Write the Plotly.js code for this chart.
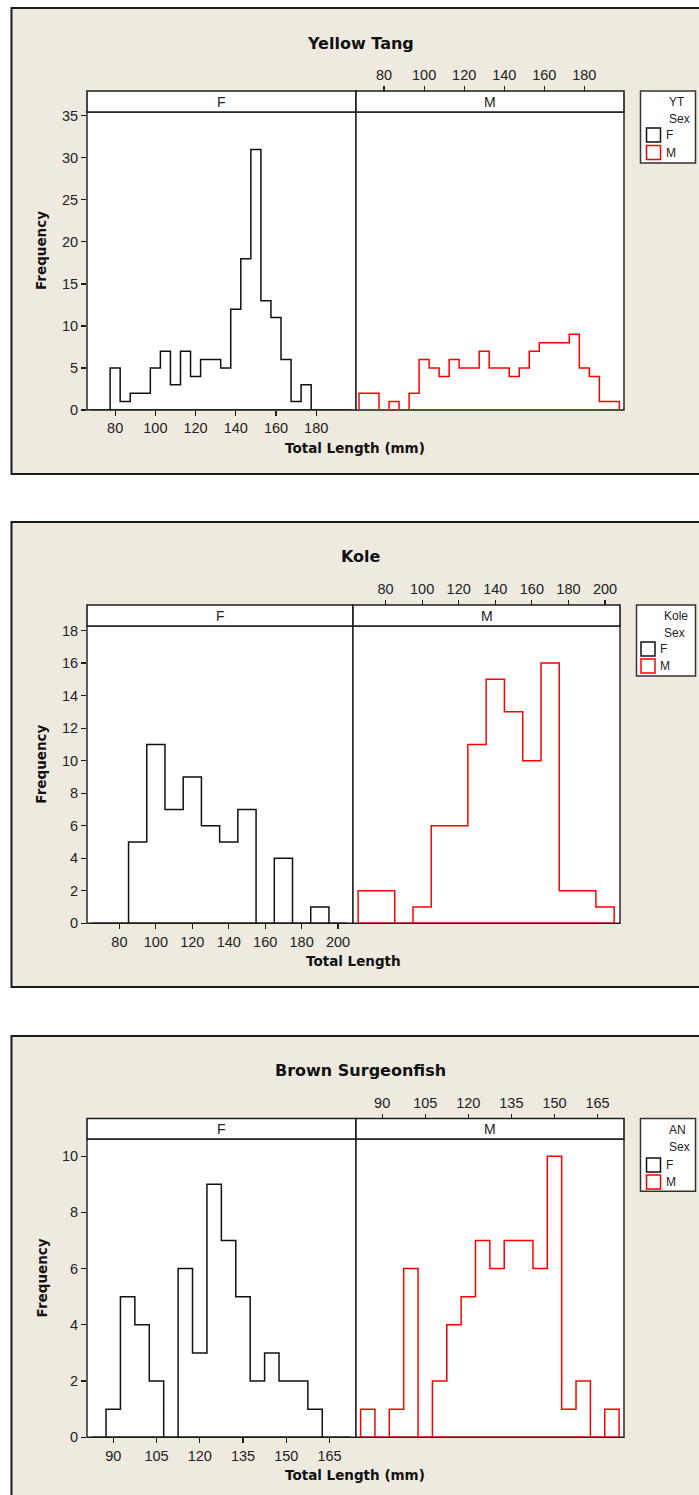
<!DOCTYPE html>
<html>
<head>
<meta charset="utf-8">
<script src="https://cdn.plot.ly/plotly-3.0.1.min.js"></script>
<style>
  html, body { margin: 0; padding: 0; background: #ffffff; }
  #chart { width: 699px; height: 1495px; }
</style>
</head>
<body>
<div id="chart"></div>
<script>
// ---- Yellow Tang (YT): counts per 5 mm total-length bin, by sex ----
const ytCenters = [70, 75, 80, 85, 90, 95, 100, 105, 110, 115, 120, 125, 130,
                   135, 140, 145, 150, 155, 160, 165, 170, 175, 180, 185, 190, 195];
const ytFemale  = [0, 0, 5, 1, 2, 2, 5, 7, 3, 7, 4, 6, 6,
                   5, 12, 18, 31, 13, 11, 6, 1, 3, 0, 0, 0, 0];
const ytMale    = [2, 2, 0, 1, 0, 2, 6, 5, 4, 6, 5, 5, 7,
                   5, 5, 4, 5, 7, 8, 8, 8, 9, 5, 4, 1, 1];
const ytBinWidth = 5;
const ytLengthTicks = [80, 100, 120, 140, 160, 180];
const ytFreqTicks = [0, 5, 10, 15, 20, 25, 30, 35];

// ---- Kole: counts per 10 mm total-length bin, by sex ----
const koleCenters = [70, 80, 90, 100, 110, 120, 130, 140, 150, 160, 170, 180, 190, 200];
const koleFemale  = [0, 0, 5, 11, 7, 9, 6, 5, 7, 0, 4, 0, 1, 0];
const koleMale    = [2, 2, 0, 1, 6, 6, 11, 15, 13, 10, 16, 2, 2, 1];
const koleBinWidth = 10;
const koleLengthTicks = [80, 100, 120, 140, 160, 180, 200];
const koleFreqTicks = [0, 2, 4, 6, 8, 10, 12, 14, 16, 18];

// ---- Brown Surgeonfish (AN): counts per 5 mm total-length bin, by sex ----
const anCenters = [85, 90, 95, 100, 105, 110, 115, 120, 125, 130, 135, 140, 145, 150, 155, 160, 165, 170];
const anFemale  = [0, 1, 5, 4, 2, 0, 6, 3, 9, 7, 5, 2, 3, 2, 2, 1, 0, 0];
const anMale    = [1, 0, 1, 6, 0, 2, 4, 5, 7, 6, 7, 7, 6, 10, 1, 2, 0, 1];
const anBinWidth = 5;
const anLengthTicks = [90, 105, 120, 135, 150, 165];
const anFreqTicks = [0, 2, 4, 6, 8, 10];

const sexLabels = ['F', 'M'];
const sexColors = ['#111111', '#ff0000'];

// ---- page geometry (pixels) ----
const W = 699, H = 1495;
const fx = p => p / W;
const fy = p => 1 - p / H;

const BEIGE = '#eeeae0';
const INK = '#1c1c1c';
const TICK_FONT = { family: 'Liberation Sans, Arial, sans-serif', size: 14.5, color: '#222222' };
const BOLD_FAMILY = 'DejaVu Sans, Verdana, sans-serif';

const panels = [
  {
    title: 'Yellow Tang', group: 'YT', xTitle: 'Total Length (mm)',
    centers: ytCenters, series: [ytFemale, ytMale], width: ytBinWidth,
    xTicks: ytLengthTicks, yTicks: ytFreqTicks,
    xRange: [66.0, 199.8], yRange: [0, 35.45],
    boxTop: 8, boxBot: 474, titleY: 43, stripTop: 91, plotTop: 112, plotBot: 410,
    xF: [87, 356], xM: [356, 624], xTitleY: 447.5,
    legend: { x0: 640.5, y0: 91, y1: 163, textX: 666.5, sqX: 646.5, hdrY: [102, 119], rowY: [135, 152.5] }
  },
  {
    title: 'Kole', group: 'Kole', xTitle: 'Total Length',
    centers: koleCenters, series: [koleFemale, koleMale], width: koleBinWidth,
    xTicks: koleLengthTicks, yTicks: koleFreqTicks,
    xRange: [62.2, 208.2], yRange: [0, 18.28],
    boxTop: 522, boxBot: 987, titleY: 556, stripTop: 605, plotTop: 626, plotBot: 923.3,
    xF: [87, 353], xM: [353, 620], xTitleY: 960.5,
    legend: { x0: 636.5, y0: 605, y1: 676, textX: 662, sqX: 641, hdrY: [616.5, 633], rowY: [649, 666] }
  },
  {
    title: 'Brown Surgeonfish', group: 'AN', xTitle: 'Total Length (mm)',
    centers: anCenters, series: [anFemale, anMale], width: anBinWidth,
    xTicks: anLengthTicks, yTicks: anFreqTicks,
    xRange: [80.9, 174.2], yRange: [0, 10.61],
    boxTop: 1036, boxBot: 1520, titleY: 1070, stripTop: 1118.5, plotTop: 1139, plotBot: 1437.3,
    xF: [87, 356], xM: [356, 624], xTitleY: 1475,
    legend: { x0: 640.5, y0: 1118.5, y1: 1191.3, textX: 666.5, sqX: 646.5, hdrY: [1130, 1146.5], rowY: [1165, 1182] }
  }
];

// Outline of a histogram: a single stepped path over the bins, closed along the baseline.
function stepOutline(centers, counts, width) {
  const xs = [], ys = [];
  const lo = centers[0] - width / 2;
  const hi = centers[centers.length - 1] + width / 2;
  xs.push(lo); ys.push(0);
  centers.forEach((c, i) => {
    xs.push(c - width / 2, c + width / 2);
    ys.push(counts[i], counts[i]);
  });
  xs.push(hi, lo); ys.push(0, 0);
  return { x: xs, y: ys };
}

const traces = [];
const shapes = [];
const annotations = [];
const layout = {
  width: W, height: H,
  margin: { l: 0, r: 0, t: 0, b: 0 },
  paper_bgcolor: '#ffffff',
  plot_bgcolor: 'rgba(0,0,0,0)',
  showlegend: false,
  hovermode: false
};

function rect(x0, y0, x1, y1, fill, lineColor, lineWidth, layer) {
  shapes.push({
    type: 'rect', xref: 'paper', yref: 'paper',
    x0: fx(x0), x1: fx(x1), y0: fy(y1), y1: fy(y0),
    fillcolor: fill, layer: layer,
    line: { color: lineColor, width: lineWidth }
  });
}

function label(text, x, y, font, opts) {
  annotations.push(Object.assign({
    text: text, xref: 'paper', yref: 'paper', x: fx(x), y: fy(y),
    xanchor: 'center', yanchor: 'middle', showarrow: false, font: font
  }, opts || {}));
}

panels.forEach((p, k) => {
  const idF = 2 * k + 1, idM = 2 * k + 2;
  const yDomain = [fy(p.plotBot), fy(p.plotTop)];

  // beige panel background
  rect(11.5, p.boxTop, 712, p.boxBot, BEIGE, INK, 2, 'below');
  // white plotting areas with frames
  rect(p.xF[0], p.plotTop, p.xF[1], p.plotBot, '#ffffff', INK, 1.4, 'below');
  rect(p.xM[0], p.plotTop, p.xM[1], p.plotBot, '#ffffff', INK, 1.4, 'below');
  // facet strips
  rect(p.xF[0], p.stripTop, p.xF[1], p.plotTop, '#ffffff', INK, 1.6, 'above');
  rect(p.xM[0], p.stripTop, p.xM[1], p.plotTop, '#ffffff', INK, 1.6, 'above');
  const stripFont = { family: TICK_FONT.family, size: 14, color: '#222222' };
  label(sexLabels[0], (p.xF[0] + p.xF[1]) / 2, (p.stripTop + p.plotTop) / 2 + 0.5, stripFont);
  label(sexLabels[1], (p.xM[0] + p.xM[1]) / 2, (p.stripTop + p.plotTop) / 2 + 0.5, stripFont);

  const common = {
    showgrid: false, zeroline: false, showline: false, fixedrange: true,
    ticks: 'outside', ticklen: 5, tickwidth: 1.2, tickcolor: INK,
    tickfont: TICK_FONT, tickmode: 'array'
  };

  layout['xaxis' + idF] = Object.assign({}, common, {
    domain: [fx(p.xF[0]), fx(p.xF[1])], range: p.xRange,
    anchor: 'y' + idF, side: 'bottom', tickvals: p.xTicks
  });
  layout['yaxis' + idF] = Object.assign({}, common, {
    domain: yDomain, range: p.yRange, anchor: 'x' + idF, tickvals: p.yTicks
  });
  layout['xaxis' + idM] = Object.assign({}, common, {
    domain: [fx(p.xM[0]), fx(p.xM[1])], range: p.xRange,
    anchor: 'free', position: fy(p.stripTop), side: 'top', tickvals: p.xTicks
  });
  layout['yaxis' + idM] = {
    domain: yDomain, range: p.yRange, anchor: 'x' + idM,
    showgrid: false, zeroline: false, showline: false, showticklabels: false,
    ticks: '', fixedrange: true
  };

  [idF, idM].forEach((id, s) => {
    const path = stepOutline(p.centers, p.series[s], p.width);
    traces.push({
      type: 'scatter', mode: 'lines', name: sexLabels[s],
      x: path.x, y: path.y,
      xaxis: 'x' + id, yaxis: 'y' + id,
      line: { color: sexColors[s], width: 1.5 },
      hoverinfo: 'skip'
    });
  });

  // panel title and axis titles
  label(p.title, 360.7, p.titleY,
        { family: BOLD_FAMILY, size: 16, color: '#111111', weight: 'bold' });
  label(p.xTitle, (p.xF[0] + p.xM[1]) / 2, p.xTitleY,
        { family: BOLD_FAMILY, size: 13.5, color: '#111111', weight: 'bold' });
  label('Frequency', 41.5, (p.stripTop + p.plotBot) / 2,
        { family: BOLD_FAMILY, size: 13.5, color: '#111111', weight: 'bold' },
        { textangle: -90 });

  // grouping legend
  const L = p.legend;
  const lf = { family: TICK_FONT.family, size: 12, color: '#222222' };
  rect(L.x0, L.y0, 695.5, L.y1, '#ffffff', '#333333', 1.5, 'above');
  label(p.group, L.textX, L.hdrY[0], lf, { xanchor: 'left' });
  label('Sex', L.textX, L.hdrY[1], lf, { xanchor: 'left' });
  sexLabels.forEach((s, i) => {
    const cy = L.rowY[i];
    rect(L.sqX, cy - 7, L.sqX + 14, cy + 7, '#ffffff', sexColors[i], 1.5, 'above');
    label(s, L.sqX + 17, cy, lf, { xanchor: 'left' });
  });
});

layout.shapes = shapes;
layout.annotations = annotations;

Plotly.newPlot('chart', traces, layout, { staticPlot: true, displayModeBar: false });
</script>
</body>
</html>
